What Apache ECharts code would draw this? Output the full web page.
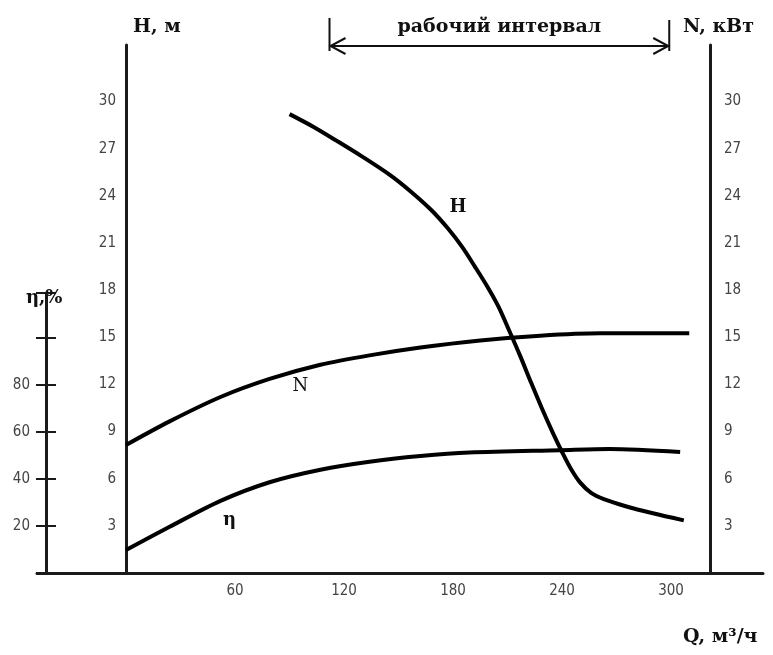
<!DOCTYPE html>
<html>
<head>
<meta charset="utf-8">
<script src="https://cdn.jsdelivr.net/npm/echarts@6/dist/echarts.min.js"></script>
<style>
html, body { margin: 0; background: #fff; }
#main { width: 773px; height: 655px; }
</style>
</head>
<body>
<div id="main"></div>
<script>
// Q, м3/ч
var hQ = [90, 103, 116, 130, 145, 157, 168, 177, 185, 192, 199, 205, 211, 217, 223, 229, 235, 240, 245, 250, 256, 263, 275, 290, 307];
var hHead = [29.2, 28.4, 27.5, 26.5, 25.35, 24.25, 23.1, 21.95, 20.75, 19.5, 18.2, 16.95, 15.4, 13.8, 12.1, 10.45, 8.9, 7.7, 6.6, 5.75, 5.1, 4.7, 4.25, 3.8, 3.35];
var nQ = [0, 24, 52, 79, 107, 134, 162, 195, 228, 261, 310];
var nPower = [8.15, 9.65, 11.2, 12.35, 13.25, 13.85, 14.35, 14.8, 15.1, 15.25, 15.25];
var etaQ = [0, 24, 52, 79, 107, 134, 162, 189, 239, 266, 305];
var etaVals = [9.8, 19.6, 30.6, 38.5, 43.8, 47.2, 49.6, 51.1, 52.1, 52.6, 51.3];
var qLabels = [60, 120, 180, 240, 300];
var workRange = [112, 299];

var pairs = function (xs, ys) {
    return xs.map(function (x, i) { return [x, ys[i]]; });
};

var chart = echarts.init(document.getElementById('main'));
var numFont = { color: '#444', fontFamily: 'Liberation Sans Narrow, DejaVu Sans Condensed, sans-serif', fontSize: 15 };
var axisLn = { show: true, onZero: false, lineStyle: { color: '#1a1a1a', width: 3 } };
var serifBold = 'DejaVu Serif, Liberation Serif, serif';
var curve = { color: '#000', width: 4 };

var option = {
    animation: false,
    backgroundColor: '#fff',
    grid: [
        { left: 37, right: 10, top: 45, bottom: 82 },
        { left: 36, width: 20, top: 293, bottom: 82 }
    ],
    xAxis: [
        {
            type: 'value', gridIndex: 0, min: -49, max: 350.6,
            axisLine: axisLn,
            axisTick: { show: false },
            splitLine: { show: false },
            axisLabel: Object.assign({ customValues: qLabels, margin: 11 }, numFont)
        },
        { type: 'value', gridIndex: 1, min: 0, max: 1, show: false }
    ],
    yAxis: [
        {
            // H, м
            type: 'value', gridIndex: 0, position: 'left', offset: -89,
            min: 0, max: 33.6, interval: 3,
            axisLine: axisLn,
            axisTick: { show: false },
            splitLine: { show: false },
            axisLabel: Object.assign({
                margin: 10,
                formatter: function (v) { return (v > 0 && v <= 30) ? v : ''; }
            }, numFont)
        },
        {
            // N, кВт
            type: 'value', gridIndex: 0, position: 'right', offset: -53,
            min: 0, max: 33.6, interval: 3,
            axisLine: axisLn,
            axisTick: { show: false },
            splitLine: { show: false },
            axisLabel: Object.assign({
                margin: 14,
                formatter: function (v) { return (v > 0 && v <= 30) ? v : ''; }
            }, numFont)
        },
        {
            // η - скрытая шкала для кривой
            type: 'value', gridIndex: 0, min: 0, max: 224, show: false
        },
        {
            // η, % - короткая ось слева
            type: 'value', gridIndex: 1, position: 'left', offset: -10,
            min: 0, max: 119.1, interval: 20,
            axisLine: axisLn,
            axisTick: { show: false },
            splitLine: { show: true, lineStyle: { color: '#1a1a1a', width: 2 } },
            axisLabel: Object.assign({
                margin: 16,
                formatter: function (v) { return (v > 0 && v <= 80) ? v : ''; }
            }, numFont)
        }
    ],
    series: [
        {
            name: 'H', type: 'line', xAxisIndex: 0, yAxisIndex: 0,
            data: pairs(hQ, hHead), smooth: 0.3, showSymbol: false,
            lineStyle: curve
        },
        {
            name: 'N', type: 'line', xAxisIndex: 0, yAxisIndex: 1,
            data: pairs(nQ, nPower), smooth: 0.3, showSymbol: false,
            lineStyle: curve
        },
        {
            name: 'η', type: 'line', xAxisIndex: 0, yAxisIndex: 2,
            data: pairs(etaQ, etaVals), smooth: 0.3, showSymbol: false,
            lineStyle: curve
        }
    ]
};
chart.setOption(option);

// подписи и "рабочий интервал"
var px = function (q, v, yi) {
    return chart.convertToPixel({ xAxisIndex: 0, yAxisIndex: yi }, [q, v]);
};
var xL = px(workRange[0], 0, 0)[0];
var xR = px(workRange[1], 0, 0)[0];
var arrowY = 46;
var lineSt = { stroke: '#111', lineWidth: 2 };
var pH = px(182.7, 23.3, 0);
var pN = px(96, 11.9, 1);
var pE = px(57, 22.5, 2);

var txt = function (x, y, s, font, align) {
    return { type: 'text', x: x, y: y, style: { text: s, font: font, fill: '#111', align: align || 'left', verticalAlign: 'middle' } };
};

chart.setOption({
    graphic: [
        { type: 'polyline', shape: { points: [[xL, 18], [xL, 51]] }, style: lineSt },
        { type: 'polyline', shape: { points: [[xR, 20], [xR, 51]] }, style: lineSt },
        { type: 'polyline', shape: { points: [[xL, arrowY], [xR, arrowY]] }, style: lineSt },
        { type: 'polyline', shape: { points: [[xL + 16, arrowY - 8], [xL + 1, arrowY], [xL + 16, arrowY + 8]] }, style: lineSt },
        { type: 'polyline', shape: { points: [[xR - 16, arrowY - 8], [xR - 1, arrowY], [xR - 16, arrowY + 8]] }, style: lineSt },
        txt((xL + xR) / 2, 27, 'рабочий интервал', 'bold 19px ' + serifBold, 'center'),
        txt(133, 27, 'H, м', 'bold 19px ' + serifBold),
        txt(683, 27, 'N, кВт', 'bold 19px ' + serifBold),
        txt(26, 298, 'η,%', 'bold 18px ' + serifBold),
        txt(683, 637, 'Q, м³/ч', 'bold 19px ' + serifBold),
        txt(pH[0], pH[1], 'H', 'bold 18px ' + serifBold, 'center'),
        txt(pN[0], pN[1], 'N', '18px ' + serifBold, 'center'),
        txt(pE[0], pE[1], 'η', 'bold 18px ' + serifBold, 'center')
    ]
});
</script>
</body>
</html>
